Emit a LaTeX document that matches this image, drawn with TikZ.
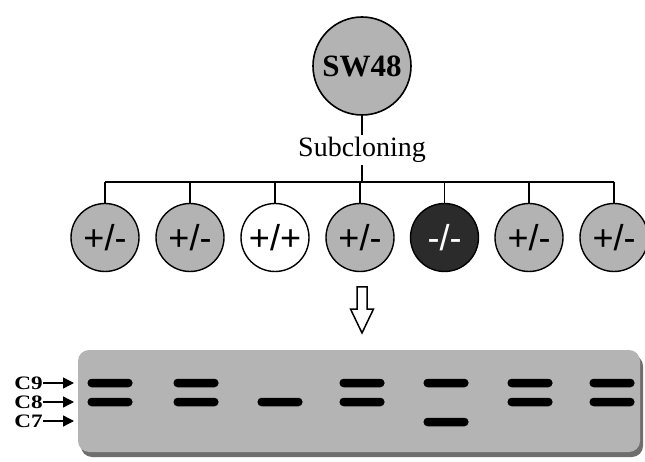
\documentclass[tikz,border=0pt]{standalone}
\usepackage{fontspec}
\setmainfont{Liberation Serif}
\setsansfont{Liberation Sans}
\newfontfamily\markerfont[FakeStretch=1.22]{Liberation Serif}
\usetikzlibrary{arrows.meta}
\definecolor{cellgray}{HTML}{B3B3B3}
\definecolor{celldark}{HTML}{2B2B2B}
\definecolor{gelgray}{HTML}{B4B4B4}
\definecolor{gelshadow}{HTML}{6E6E6E}
\begin{document}
\begin{tikzpicture}[x=1pt,y=-1pt,
  parent/.style={circle, draw, line width=1.6pt, fill=cellgray, minimum size=98pt,
    inner sep=0pt, font=\bfseries\fontsize{31}{31}\selectfont},
  clone/.style={circle, draw, line width=1.4pt, fill=cellgray, minimum size=68pt,
    inner sep=0pt, font=\sffamily\fontsize{36}{36}\selectfont},
  wildtype/.style={clone, fill=white},
  knockout/.style={clone, fill=celldark, text=white},
  link/.style={line width=1.4pt},
  band/.style={fill=black, rounded corners=4pt, minimum width=45pt,
    minimum height=8.5pt, inner sep=0pt},
  marker/.style={font=\markerfont\bfseries\fontsize{19}{19}\selectfont, inner sep=0pt, anchor=east},
  markerarrow/.style={line width=1.4pt, -{Triangle[length=11pt,width=11pt]}}
]
\useasboundingbox (0,0) rectangle (645,462);

% parental line and subcloning step
\node[parent] (sw) at (362,66) {SW48};
\node[font=\fontsize{28}{28}\selectfont, inner sep=2pt] (sub) at (362,150) {Subcloning};
\coordinate (bus) at (362,182);
\draw[link] (sw.south) -- (sub.north);
\draw[link] (sub.south) -- (bus);

% clones
\node[clone]    (c1) at (105,237.5) {+/-};
\node[clone]    (c2) at (190,237.5) {+/-};
\node[wildtype] (c3) at (275,237.5) {+/+};
\node[clone]    (c4) at (360,237.5) {+/-};
\node[knockout] (c5) at (444.5,237.5) {-/-};
\node[clone]    (c6) at (529,237.5) {+/-};
\node[clone]    (c7) at (614,237.5) {+/-};

\draw[link] (c1.north |- bus) -- (c7.north |- bus);
\foreach \c in {c1,c2,c3,c4,c5,c6,c7}
  \draw[link] (\c.north |- bus) -- (\c.north);

% hollow arrow down to the gel
\draw[line width=1.5pt, fill=white, line join=miter]
  (357,287) -- (367,287) -- (367,309) -- (373.5,309) -- (362,333)
  -- (350.5,309) -- (357,309) -- cycle;

% gel
\fill[gelshadow, rounded corners=11pt] (81,355) rectangle (643,457);
\fill[gelgray, rounded corners=11pt] (78,350) rectangle (640,452);

% size markers
\coordinate (r9) at (74,383);
\coordinate (r8) at (74,402);
\coordinate (r7) at (74,421);
\node[marker] (m9) at (43,383) {C9};
\node[marker] (m8) at (43,402) {C8};
\node[marker] (m7) at (43,421) {C7};
\draw[markerarrow] (m9.east) -- (r9);
\draw[markerarrow] (m8.east) -- (r8);
\draw[markerarrow] (m7.east) -- (r7);

% bands per lane
\node[band] (l1a) at (110,383) {};
\node[band] (l1b) at (110,402) {};
\node[band] (l2a) at (196,383) {};
\node[band] (l2b) at (196,402) {};
\node[band] (l3b) at (280,402) {};
\node[band] (l4a) at (362,383) {};
\node[band] (l4b) at (362,402) {};
\node[band] (l5a) at (446,383) {};
\node[band] (l5c) at (446,422) {};
\node[band] (l6a) at (530,383) {};
\node[band] (l6b) at (530,402) {};
\node[band] (l7a) at (612,383) {};
\node[band] (l7b) at (612,402) {};
\end{tikzpicture}
\end{document}
